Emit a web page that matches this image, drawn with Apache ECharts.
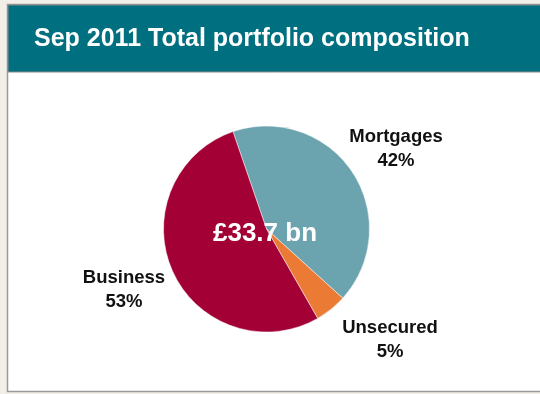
<!DOCTYPE html>
<html>
<head>
<meta charset="utf-8">
<script src="https://cdn.jsdelivr.net/npm/echarts@6/dist/echarts.min.js"></script>
<style>
  html, body { margin: 0; padding: 0; background: #f2efe9; }
  #chart { width: 540px; height: 394px; }
</style>
</head>
<body>
<div id="chart"></div>
<script>
// Portfolio composition, Sep 2011
const categories = ['Mortgages', 'Unsecured', 'Business'];
const shares = [42, 5, 53];
const colors = ['#6ba3af', '#ea7a34', '#a30035'];
const totalLabel = '£33.7 bn';

// label anchors (px) for each slice
const labelPos = [[396, 149], [390, 340], [124, 290]];

const chart = echarts.init(document.getElementById('chart'));
chart.setOption({
    animation: false,
    backgroundColor: '#f2efe9',
    textStyle: { fontFamily: 'Liberation Sans, Arial, sans-serif' },
    graphic: [
        { type: 'rect', z: 0, shape: { x: 7.5, y: 4.5, width: 540, height: 387 },
          style: { fill: '#ffffff', stroke: '#9a9a9a', lineWidth: 1.5 } },
        { type: 'rect', z: 1, shape: { x: 8, y: 5, width: 540, height: 67 },
          style: { fill: '#006f80', stroke: '#8a8a8a', lineWidth: 1 } }
    ],
    title: [
        { text: 'Sep 2011 Total portfolio composition', left: 29, top: 22,
          textStyle: { color: '#fff', fontSize: 25, fontWeight: 'bold', fontFamily: 'Liberation Sans, Arial, sans-serif' } },
        { text: totalLabel, left: 260, top: 229, textAlign: 'center', textVerticalAlign: 'middle',
          textStyle: { color: '#fff', fontSize: 26, fontWeight: 'bold', fontFamily: 'Liberation Sans, Arial, sans-serif' } }
    ],
    series: [{
        type: 'pie',
        center: [266.5, 229],
        radius: [0, 103],
        startAngle: 109,
        z: 2,
        label: {
            show: true,
            position: 'outside',
            formatter: '{b}\n{c}%',
            color: '#111',
            fontSize: 18.5,
            fontWeight: 'bold',
            lineHeight: 24,
            align: 'center',
            fontFamily: 'Liberation Sans, Arial, sans-serif'
        },
        labelLine: { show: false },
        labelLayout: p => ({ x: labelPos[p.dataIndex][0], y: labelPos[p.dataIndex][1], align: 'center', verticalAlign: 'middle' }),
        itemStyle: { borderColor: '#fff', borderWidth: 0.5 },
        emphasis: { disabled: true },
        data: categories.map((c, i) => ({ name: c, value: shares[i], itemStyle: { color: colors[i] } }))
    }]
});
</script>
</body>
</html>
